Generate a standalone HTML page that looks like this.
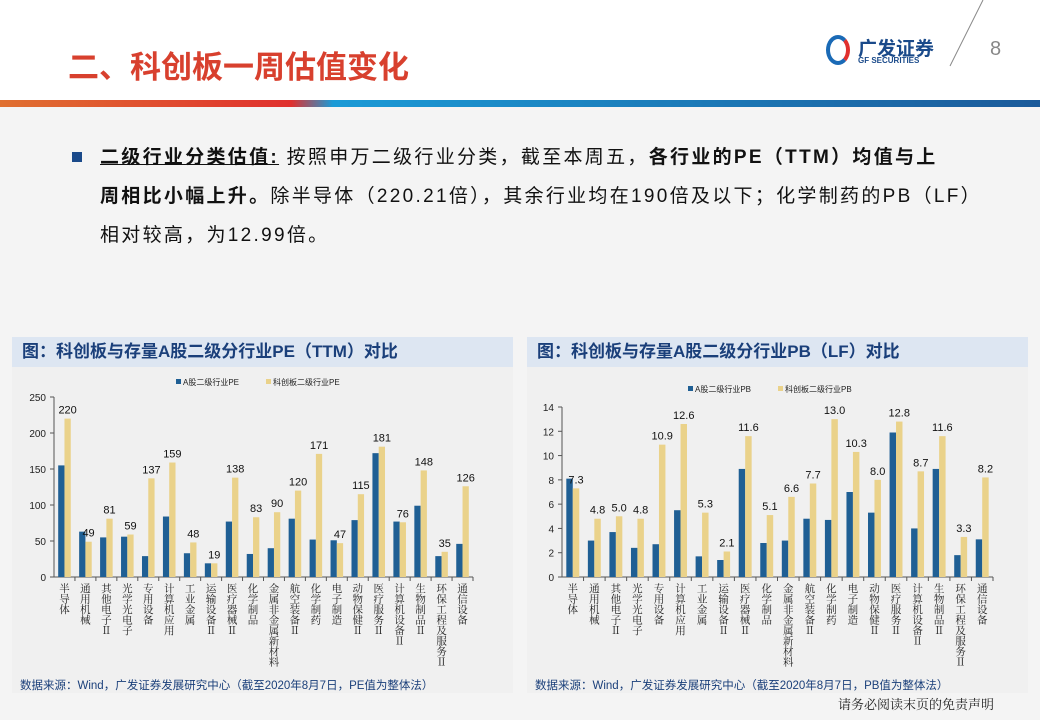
<!DOCTYPE html>
<html><head><meta charset="utf-8"><style>
body{margin:0;width:1040px;height:720px;overflow:hidden;background:#f4f4f4;font-family:"Liberation Sans","Noto Sans CJK SC",sans-serif;position:relative}
.hdr{position:absolute;left:0;top:0;width:1040px;height:100px;background:#fff}
.title{position:absolute;left:68px;top:42px;font-size:31px;font-weight:bold;color:#d8402e;letter-spacing:0px}
.bar{position:absolute;left:0;top:100px;width:1040px;height:7px;background:linear-gradient(90deg,#e07030 0%,#e0302e 28%,#1a9ad6 32%,#1a5a9a 100%)}
.txt{position:absolute;left:100px;font-size:19px;letter-spacing:2.3px;color:#111;line-height:20px;white-space:nowrap}
.panel{position:absolute;top:337px;width:501px;height:356px;background:#f0f0f0}
.ptitle{height:30px;background:#dde6f2;color:#1a3f7a;font-weight:bold;font-size:17px;line-height:30px;padding-left:10px}
.src{position:absolute;left:8px;top:340px;font-size:11.5px;color:#1a3f7a}
</style></head><body>
<div class="hdr"></div>
<div class="title">二、科创板一周估值变化</div>
<div style="position:absolute;left:826px;top:35px;width:24px;height:30px;border-radius:50%;border:4px solid #1a6ab6;border-right-color:#e0302e;box-sizing:border-box"></div>
<div style="position:absolute;left:858px;top:34px;font-size:19px;font-weight:bold;color:#1a4a8a">广发证券</div>
<div style="position:absolute;left:858px;top:56px;font-size:8px;font-weight:bold;color:#1a4a8a">GF SECURITIES</div>
<svg style="position:absolute;left:940px;top:0" width="50" height="70"><line x1="43" y1="0" x2="10" y2="66" stroke="#888" stroke-width="1"/></svg>
<div style="position:absolute;left:990px;top:38px;font-size:20px;color:#888">8</div>
<div class="bar"></div>
<div style="position:absolute;left:72px;top:152px;width:10px;height:10px;background:#1a4a8a"></div>
<div class="txt" style="top:148px"><b style="text-decoration:underline">二级行业分类估值:</b> 按照申万二级行业分类，截至本周五，<b>各行业的PE（TTM）均值与上</b></div>
<div class="txt" style="top:187px"><b>周相比小幅上升。</b>除半导体（220.21倍），其余行业均在190倍及以下；化学制药的PB（LF）</div>
<div class="txt" style="top:226px">相对较高，为12.99倍。</div>
<div class="panel" style="left:12px"><div class="ptitle">图：科创板与存量A股二级分行业PE（TTM）对比</div><div class="src">数据来源：Wind，广发证券发展研究中心（截至2020年8月7日，PE值为整体法）</div></div>
<div class="panel" style="left:527px"><div class="ptitle">图：科创板与存量A股二级分行业PB（LF）对比</div><div class="src">数据来源：Wind，广发证券发展研究中心（截至2020年8月7日，PB值为整体法）</div></div>
<svg id="c" width="1040" height="720" style="position:absolute;left:0;top:0"></svg>
<div style="position:absolute;left:838px;top:694px;font-size:13px;color:#222;font-family:'Liberation Serif','Noto Serif CJK SC',serif">请务必阅读末页的免责声明</div>
<script>
const categories=["半导体","通用机械","其他电子Ⅱ","光学光电子","专用设备","计算机应用","工业金属","运输设备Ⅱ","医疗器械Ⅱ","化学制品","金属非金属新材料","航空装备Ⅱ","化学制药","电子制造","动物保健Ⅱ","医疗服务Ⅱ","计算机设备Ⅱ","生物制品Ⅱ","环保工程及服务Ⅱ","通信设备"];
const peA=[155,63,55,56,29,84,33,19,77,32,40,81,52,51,79,172,77,99,29,46];
const peK=[220,49,81,59,137,159,48,19,138,83,90,120,171,47,115,181,76,148,35,126];
const peTicks=[0,50,100,150,200,250];
const pbA=[8.1,3.0,3.7,2.4,2.7,5.5,1.7,1.4,8.9,2.8,3.0,4.8,4.7,7.0,5.3,11.9,4.0,8.9,1.8,3.1];
const pbK=[7.3,4.8,5.0,4.8,10.9,12.6,5.3,2.1,11.6,5.1,6.6,7.7,13.0,10.3,8.0,12.8,8.7,11.6,3.3,8.2];
const pbLabels=["7.3","4.8","5.0","4.8","10.9","12.6","5.3","2.1","11.6","5.1","6.6","7.7","13.0","10.3","8.0","12.8","8.7","11.6","3.3","8.2"];
const pbTicks=[0,2,4,6,8,10,12,14];
const svg=document.getElementById('c');const NS='http://www.w3.org/2000/svg';
function mk(t,a,txt){const e=document.createElementNS(NS,t);for(const k in a)e.setAttribute(k,a[k]);if(txt!=null)e.textContent=txt;svg.appendChild(e);return e;}
function chart(o){
 const y=v=>o.y0-(v/o.max)*(o.y0-o.y1);
 const n=categories.length,w=(o.x1-o.x0)/n;
 o.ticks.forEach(t=>{const e=mk('text',{x:o.x0-8,y:y(t)+4,'text-anchor':'end','font-size':10,fill:'#222'},t);
 
 
 mk('line',{x1:o.x0-4,x2:o.x0,y1:y(t),y2:y(t),stroke:'#555'});});
 mk('line',{x1:o.x0,x2:o.x0,y1:o.y1,y2:o.y0,stroke:'#555'});
 mk('line',{x1:o.x0,x2:o.x1,y1:o.y0,y2:o.y0,stroke:'#555'});
 categories.forEach((c,i)=>{const cx=o.x0+w*i+w/2;
  mk('line',{x1:o.x0+w*(i+1),x2:o.x0+w*(i+1),y1:o.y0,y2:o.y0+4,stroke:'#555'});
  const b1=mk('rect',{x:cx-w*0.3,y:y(o.a[i]),width:w*0.3,height:o.y0-y(o.a[i]),fill:'#1f5f94'});
  
  
  const b2=mk('rect',{x:cx,y:y(o.k[i]),width:w*0.3,height:o.y0-y(o.k[i]),fill:'#ead28a'});
  
  
  const v=mk('text',{x:cx+w*0.15,y:y(o.k[i])-5,'text-anchor':'middle','font-size':11,fill:'#111'},o.lab[i]);
  
  
  [...c].forEach((ch,j)=>{const t=mk('text',{x:cx,y:o.y0+15+j*10.5,'text-anchor':'middle','font-size':10.5,fill:'#222','font-family':'Noto Serif CJK SC,serif'},ch);
  
  });
 });
 mk('rect',{x:o.lx,y:o.ly-6,width:5,height:5,fill:'#1f5f94'});
 const l1=mk('text',{x:o.lx+7,y:o.ly,'font-size':8,fill:'#222'},o.l1);
 
 
 mk('rect',{x:o.lx+90,y:o.ly-6,width:5,height:5,fill:'#ead28a'});
 const l2=mk('text',{x:o.lx+97,y:o.ly,'font-size':8,fill:'#222'},o.l2);
 
 
}
chart({x0:54,x1:473,y0:577,y1:397,max:250,ticks:peTicks,a:peA,k:peK,lab:peK,lx:176,ly:385,l1:'A股二级行业PE',l2:'科创板二级行业PE'});
chart({x0:562,x1:993,y0:577,y1:407,max:14,ticks:pbTicks,a:pbA,k:pbK,lab:pbLabels,lx:688,ly:392,l1:'A股二级行业PB',l2:'科创板二级行业PB'});
</script>
</body></html>
